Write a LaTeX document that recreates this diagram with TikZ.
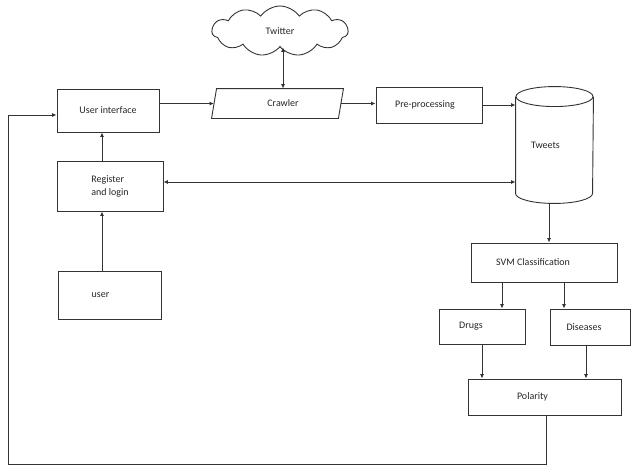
\documentclass[tikz,border=0pt]{standalone}
\usepackage{fontspec}
\setmainfont{Carlito}
\usetikzlibrary{arrows.meta,shapes.symbols}
\newcommand\shx[2]{\hspace*{#1pt}#2}
\begin{document}
\begin{tikzpicture}[x=1pt,y=-1pt,
 line/.style={draw=black!80,line width=0.9pt},
 box/.style={line,rectangle,inner sep=0pt,font=\fontsize{10}{13}\selectfont,text=black!85},
 arr/.style={line,-{Latex[length=4.5pt,width=4pt]}},
 arr2/.style={line,{Latex[length=4.5pt,width=4pt]}-{Latex[length=4.5pt,width=4pt]}}]
\useasboundingbox (0,0) rectangle (632,466);
% nodes
\node[box,minimum width=102,minimum height=43] (ui) at (108,110.5) {User interface};
\node[box,minimum width=106,minimum height=50,align=left,text depth=0pt] (reg) at (110,186) {Register\\and login};
\node[box,minimum width=103,minimum height=48] (user) at (109.5,295) {\shx{-18}{user}};
\node[line,cloud,cloud puffs=11,cloud puff arc=110,aspect=2.7,minimum width=136,minimum height=50,inner sep=0pt,font=\fontsize{10}{13}\selectfont,text=black!85] (cl) at (280,31) {Twitter};
\node[box,draw=none,minimum width=126,minimum height=29] (cr) at (277.5,103.5) {\shx{11}{Crawler}};
\draw[line] ([xshift=2.5pt]cr.north west) -- ([xshift=2.5pt]cr.north east) -- ([xshift=-2.5pt]cr.south east) -- ([xshift=-2.5pt]cr.south west) -- cycle;
\node[box,minimum width=106,minimum height=36] (pre) at (429,105) {\shx{-8}{Pre-processing}};
\node[box,draw=none,minimum width=77,minimum height=116] (tws) at (554.5,145) {\shx{-18}{Tweets}};
\draw[line] ([yshift=-10pt]tws.north west) -- ([yshift=10pt]tws.south west) arc[start angle=180,end angle=360,x radius=38.5pt,y radius=10pt] -- ([yshift=-10pt]tws.north east);
\draw[line] ([yshift=-10pt]tws.north) ellipse[x radius=38.5pt,y radius=10pt];
\node[box,minimum width=146,minimum height=39] (svm) at (544,262.5) {\shx{-22}{SVM Classification}};
\node[box,minimum width=86,minimum height=35] (dr) at (482,326.5) {\shx{-22}{Drugs}};
\node[box,minimum width=80,minimum height=36] (di) at (590,327) {\shx{-12}{Diseases}};
\node[box,minimum width=153,minimum height=36] (pol) at (544.5,397) {\shx{-24}{Polarity}};
% helper coordinates
\coordinate (ux) at (102,0);
\coordinate (tx) at (283,0);
\coordinate (sx) at (549,0);
\coordinate (d1) at (502,0);
\coordinate (d2) at (564,0);
\coordinate (d3) at (586,0);
\coordinate (px) at (546,0);
\coordinate (fb) at (8,464);
% connectors
\draw[arr] (user.north -| ux) -- (reg.south -| ux);
\draw[arr] (reg.north -| ux) -- (ui.south -| ux);
\draw[arr] (ui.east |- cr.west) -- (cr.west);
\draw[arr2] (cr.north -| tx) -- (cl.south -| tx);
\draw[arr] (cr.east) -- (cr.east -| pre.west);
\draw[arr] (pre.east) -- (pre.east -| tws.west);
\draw[arr2] ([yshift=4pt]reg.east) -- ([yshift=4pt]reg.east -| tws.west);
\draw[arr] (tws.south -| sx) -- (svm.north -| sx);
\draw[arr] (svm.south -| d1) -- (dr.north -| d1);
\draw[arr] (svm.south -| d2) -- (di.north -| d2);
\draw[arr] (dr.south) -- (dr.south |- pol.north);
\draw[arr] (di.south -| d3) -- (pol.north -| d3);
\draw[arr] (pol.south -| px) |- (fb) |- ([yshift=-4.5pt]ui.west);
\end{tikzpicture}
\end{document}
